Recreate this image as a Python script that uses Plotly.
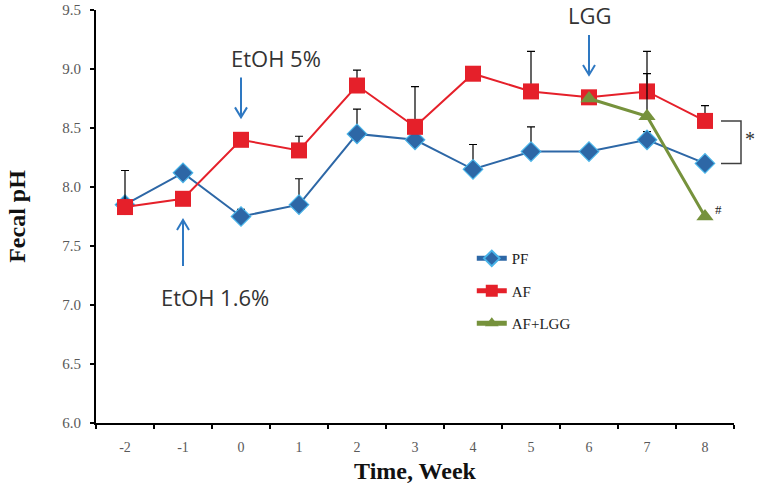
import plotly.graph_objects as go

weeks = [-2, -1, 0, 1, 2, 3, 4, 5, 6, 7, 8]
pf_ph = [7.85, 8.12, 7.75, 7.85, 8.45, 8.40, 8.15, 8.30, 8.30, 8.40, 8.20]
pf_err = [0, 0, 0.06, 0.22, 0.21, 0, 0.21, 0.21, 0, 0.07, 0]
af_ph = [7.83, 7.90, 8.40, 8.31, 8.86, 8.51, 8.96, 8.81, 8.76, 8.81, 8.56]
af_err = [0.31, 0, 0, 0.12, 0.13, 0.34, 0, 0.34, 0, 0.34, 0.13]
lgg_weeks = [6, 7, 8]
lgg_ph = [8.75, 8.60, 7.75]
lgg_err = [0, 0.36, 0]

series_names = ["PF", "AF", "AF+LGG"]
y_ticks = [6.0, 6.5, 7.0, 7.5, 8.0, 8.5, 9.0, 9.5]

BLUE = "#2D67A6"
RED = "#E5202A"
GREEN = "#76923C"
ARROW = "#2E78C2"
SERIF = "Liberation Serif, Times New Roman, serif"
SANS = "Open Sans, Noto Sans, sans-serif"

def err(vals):
    return dict(type="data", array=vals, arrayminus=[0] * len(vals), symmetric=False,
                color="black", thickness=1.2, width=4)

fig = go.Figure()
fig.add_trace(go.Scatter(
    x=weeks, y=pf_ph, name=series_names[0], mode="lines+markers", legendgroup="a",
    line=dict(color=BLUE, width=2),
    marker=dict(symbol="diamond", size=15, color=BLUE, line=dict(color="#47B3E8", width=1.2)),
    error_y=err(pf_err)))
fig.add_trace(go.Scatter(
    x=weeks, y=af_ph, name=series_names[1], mode="lines+markers", legendgroup="b",
    line=dict(color=RED, width=2),
    marker=dict(symbol="square", size=16, color=RED),
    error_y=err(af_err)))
fig.add_trace(go.Scatter(
    x=lgg_weeks, y=lgg_ph, name=series_names[2], mode="lines+markers", legendgroup="c",
    line=dict(color=GREEN, width=3),
    marker=dict(symbol="triangle-up", size=15, color=GREEN),
    error_y=err(lgg_err)))

shapes = []
def arrow_shape(xw, ytip, length, down=True):
    s = 1 if down else -1
    path = f"M0,{s*length} L0,0 M-6,{s*10} L0,0 L6,{s*10}"
    shapes.append(dict(type="path", xref="x", yref="y", xsizemode="pixel", ysizemode="pixel",
                       xanchor=xw, yanchor=ytip, path=path,
                       line=dict(color=ARROW, width=2)))

arrow_shape(0, 8.59, 40, down=True)
arrow_shape(-1, 7.72, 46, down=False)
arrow_shape(6, 8.95, 40, down=True)

# significance bracket between AF and PF at week 8 (right of the plot edge)
shapes.append(dict(type="path", xref="paper", yref="y", xsizemode="pixel", xanchor=1,
                   path=f"M-13,{af_ph[-1]} L7,{af_ph[-1]} L7,{pf_ph[-1]} L-13,{pf_ph[-1]}",
                   line=dict(color="#404040", width=1.5)))

annotations = [
    dict(x=0.6, y=9.09, text="EtOH 5%", showarrow=False, font=dict(family=SANS, size=22, color="#333333")),
    dict(x=-0.45, y=7.07, text="EtOH 1.6%", showarrow=False, font=dict(family=SANS, size=22, color="#333333")),
    dict(x=6, y=9.46, text="LGG", showarrow=False, font=dict(family=SANS, size=22, color="#333333")),
    dict(x=1, xref="paper", xanchor="center", y=(af_ph[-1] + pf_ph[-1]) / 2, xshift=16, yshift=3,
         text="*", showarrow=False, font=dict(family=SERIF, size=20, color="#333333")),
    dict(x=lgg_weeks[-1], y=lgg_ph[-1], xanchor="center", xshift=13, yshift=7, text="#",
         showarrow=False, font=dict(family=SERIF, size=13, color="#222222")),
]

fig.update_layout(
    width=760, height=489,
    margin=dict(l=96, r=26, t=10, b=66),
    paper_bgcolor="white", plot_bgcolor="white",
    shapes=shapes, annotations=annotations,
    legend=dict(x=0.589, y=0.438, xanchor="left", yanchor="top", bgcolor="rgba(0,0,0,0)",
                font=dict(family=SERIF, size=15, color="#222222"), tracegroupgap=10,
                itemsizing="constant"),
    xaxis=dict(range=[-2.5, 8.5], tickvals=weeks, ticktext=[str(w) for w in weeks],
               ticks="", showline=True, linecolor="black", linewidth=2, showgrid=False,
               zeroline=False, ticklabelstandoff=10, automargin=False,
               tickfont=dict(family=SERIF, size=14, color="#595959"),
               minor=dict(tickvals=[w - 0.5 for w in weeks] + [weeks[-1] + 0.5], ticks="outside",
                          ticklen=4, tickwidth=2, tickcolor="black", showgrid=False),
               title=dict(text="<b>Time, Week</b>", standoff=8,
                          font=dict(family=SERIF, size=24, color="#111111"))),
    yaxis=dict(range=[6.0, 9.5], tickvals=y_ticks, tickformat=".1f", ticks="outside", ticklen=4,
               tickwidth=2, tickcolor="black", showline=True, linecolor="black", linewidth=2,
               showgrid=False, zeroline=False, automargin=False, ticklabelstandoff=6,
               tickfont=dict(family=SERIF, size=15, color="#595959"),
               title=dict(text="<b>Fecal pH</b>", standoff=30,
                          font=dict(family=SERIF, size=24, color="#111111"))),
)

fig.write_html("out.html", config={"displayModeBar": False},
               post_script="document.body.style.margin='0';document.body.style.overflow='hidden';")
